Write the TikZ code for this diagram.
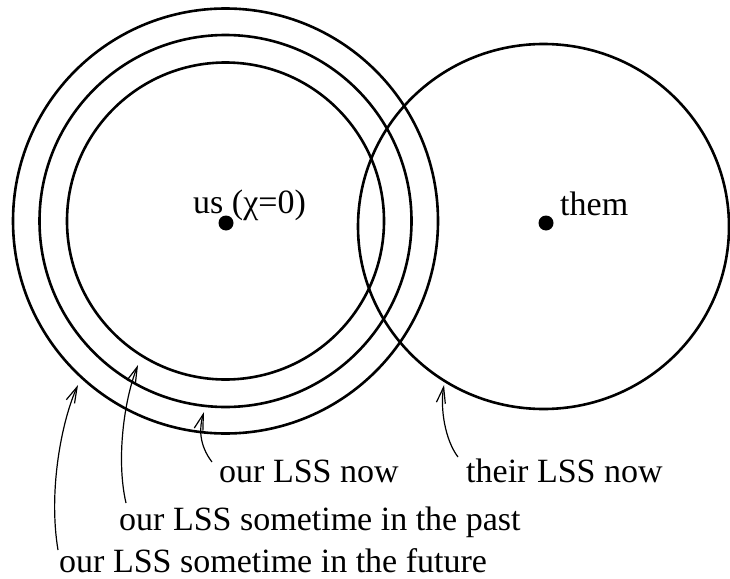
\documentclass[tikz,border=0pt]{standalone}
\usepackage{fontspec}
\setmainfont{Liberation Serif}
\usetikzlibrary{arrows.meta}
\begin{document}
\begin{tikzpicture}[x=1pt,y=-1pt,
  ring/.style={line width=2.6pt},
  pointer/.style={line width=1.2pt,-{Straight Barb[length=16pt,width=9pt,line width=1.2pt]}},
  lbl/.style={inner sep=0pt,anchor=base west,text depth=0pt,font=\fontsize{34}{40}\selectfont},
  dotmark/.style={circle,fill=black,inner sep=0pt,minimum size=15pt}]
\useasboundingbox (0,0) rectangle (730,578);
% centres
\coordinate (usc) at (225.5,221);
\coordinate (themc) at (543.5,226.5);
% rings
\draw[ring] (usc) circle[radius=158.5];
\draw[ring] (usc) circle[radius=186];
\draw[ring] (usc) circle[radius=212.5];
\draw[ring] (themc) ellipse[x radius=185.5,y radius=182.5];
% dots
\node[dotmark] (usdot) at (226,223) {};
\node[dotmark] (themdot) at (546,223) {};
% centre labels
\node[lbl] (uslbl) at (193,213) {us (χ=0)};
\node[lbl] (themlbl) at (560,215) {them};
% bottom labels
\node[lbl] (now) at (219,482) {our LSS now};
\node[lbl] (their) at (466,482) {their LSS now};
\node[lbl] (past) at (119,530) {our LSS sometime in the past};
\node[lbl] (future) at (59,572) {our LSS sometime in the future};
% arrow ends
\coordinate (ft) at (58,550);
\coordinate (fh) at (78,385);
\coordinate (pt) at (126,503);
\coordinate (ph) at (138,365);
\coordinate (nt) at (212,462);
\coordinate (nh) at (204,412);
\coordinate (tt) at (458,457);
\coordinate (th) at (444,385);
\draw[pointer] (ft) .. controls (48,490) and (62,420) .. (fh);
\draw[pointer] (pt) .. controls (116,460) and (124,400) .. (ph);
\draw[pointer] (nt) .. controls (199,445) and (199,428) .. (nh);
\draw[pointer] (tt) .. controls (445,440) and (440,408) .. (th);
\end{tikzpicture}
\end{document}
